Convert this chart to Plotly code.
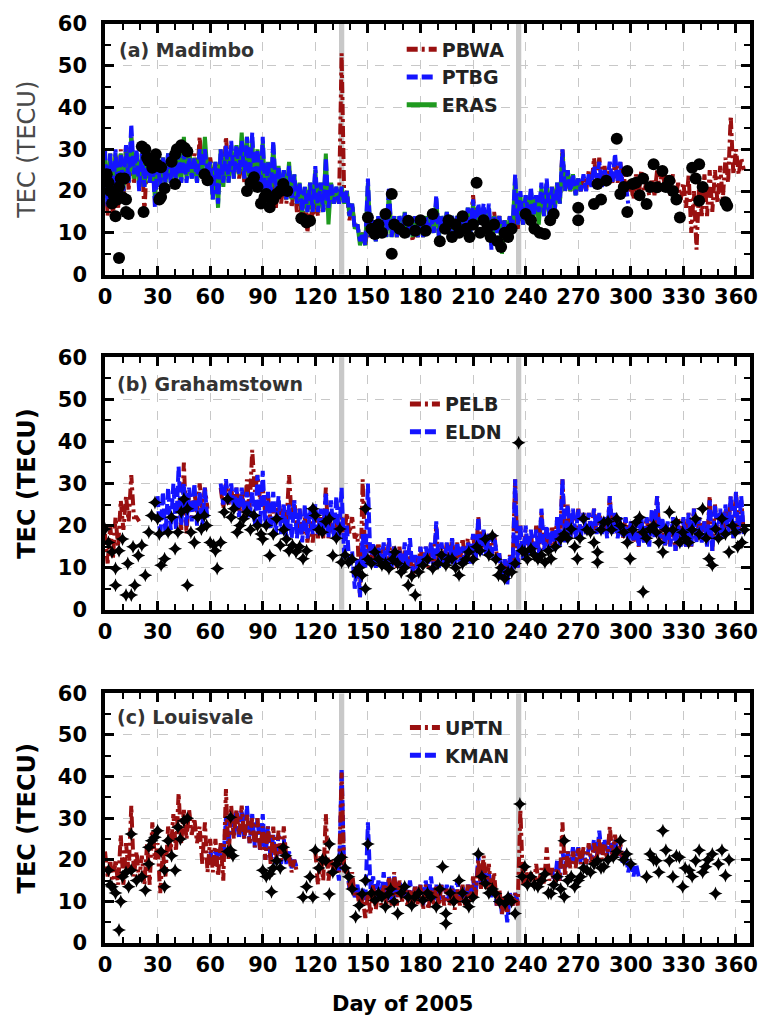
import plotly.graph_objects as go

# ---------------- data ----------------
DAYS3 = list(range(0, 366, 3))  # 3-day sampling grid (0..363)
N = None

# Panel (a) Madimbo: daily low / high of the GPS TEC streaks
PBWA_LO = [14,13,16,18,20,22,22,15,22,24, 22,22,23,24,24,25,24,23,24,25, 24,22,22,25,24,23,22,21,22,20,
           19,18,16,17,17,16,15,12,10,13, 14,15,16,17,17,18,13,11,8,7, 9,9,9,10,10,9,10,9,8,9,
           9,10,10,10,10,9,10,11,10,11, 11,12,11,10,10,10,9,10,11,12, 14,14,14,15,15,15,17,20,20,20,
           20,20,21,22,22,22,22,22,21,20, 18,19,20,19,19,20,20,19,18,18, 16,10,6,14,14,15,17,18,22,24, 24,25]
PBWA_HI = [28,29,29,30,31,33,29,28,28,29, 28,28,28,29,29,30,30,29,33,30, 28,27,28,33,30,30,29,28,27,26,
           27,26,26,24,24,25,22,20,19,18, 19,20,20,20,20,53,20,17,12,10, 12,12,13,13,13,14,13,13,13,12,
           13,13,14,14,14,14,13,14,15,15, 19,16,15,14,15,14,13,14,15,17, 17,18,17,18,20,21,22,30,24,23,
           23,23,25,28,28,26,25,27,27,24, 22,24,25,22,23,25,26,24,24,22, 22,24,20,22,24,25,25,26,28,38, 30,28]
PTBG_LO = [16,17,18,20,22,24,20,21,22,16, 21,22,22,23,22,22,23,22,24,24, 18,17,22,22,23,24,23,22,21,20,
           18,19,20,19,18,18,17,15,15,15, 15,15,16,17,17,17,14,11,8,7, 9,8,9,9,9,9,10,9,9,9,
           9,10,10,9,10,10,10,11,10,10, 11,12,10,6,10,9,9,11,12,12, 14,14,15,14,14,15,17,20,20,19,
           20,20,21,22,21,22,22,22,20,17] + [N] * 22
PTBG_HI = [30,29,30,29,31,36,30,29,30,29, 28,28,29,28,29,29,28,28,30,30, 27,27,30,31,32,31,32,33,34,30,
           33,27,32,26,25,26,24,22,21,22, 26,22,28,22,21,21,20,17,12,10, 23,13,14,14,21,14,14,15,13,14,
           14,14,14,19,14,15,14,14,15,16, 18,17,17,17,14,14,13,14,24,20, 19,21,19,22,23,21,22,30,25,24,
           23,24,24,26,27,25,27,29,27,22] + [N] * 22
ERAS_LO = [17,17,18,20,22,23,21,21,22,18, 21,22,22,22,22,23,23,22,24,24, 18,16,21,22,23,24,23,22,21,20,
           18,19,20,19,18,18,17,15,15,15, 15,15,12,17,17,17,14,11,7,7, 9,8,9,9,9,9,10,9,9,9,
           9,10,10,9,10,10,10,11,10,10, 11,12,10,7,10,5,9,11,12,12, 14,14,12,14,14,15,17,20,20,19,
           20] + [N] * 31
ERAS_HI = [29,29,29,29,30,33,29,29,29,28, 28,28,29,28,29,33,30,28,30,33, 27,27,30,30,31,31,34,33,32,30,
           32,27,31,26,25,27,24,22,21,22, 25,22,29,22,21,21,20,17,12,10, 22,13,14,14,20,14,14,15,13,14,
           14,14,14,18,14,15,14,14,15,16, 17,16,16,16,14,14,13,14,23,19, 19,20,19,21,22,21,22,29,25,24,
           23] + [N] * 31
MAD_DAY = [1,2,3,4,5,6,7,8,8,9,10,11,12,12,13.5,21,22,23,24,25,27,29,29.5,31,32,32,34,38,40,40,41,43.5,45.5,47,
           56.8,58.5,81,83,85,87,89,91,92,94,96,98,100,101.7,104,112,113,115,117,150,152,154,156,158,160,163.6,163.6,
           165,168,171,173,177,180,183,187,191,194,196,198,200,202,204,206,208,210,212,214,216,218,220,222,224,226,
           228,230,232,240,243,245,248,251,254,256,270,270,279,281,283,286,292,294,296,298,298,301,303,305,307,309,
           311,313,315,318,320,322,324,326,328,335,337,339,339,341,354,355]
MAD_TEC = [24,22,20,17,19,14,18,4,21,23,18.5,23,18,15,14.5,30.7,15,30,28,27.2,25.6,28.8,26.4,18,18.6,25.7,20.7,
           27,28.8,21.7,30,31,30.3,29.5,24,22.6,20,22,23.3,21,17,18.5,19.3,16.1,18,19.3,20,21.7,20,13.5,13.3,12.5,
           12.9,13.7,11,9.7,12,10,14.5,19.3,5,12,11,10,12.9,10.5,13,10.5,14.5,8,11,13,9,12,10,14,11,9,12,22,10,13,
           11,9,12,8,6.6,10,9,11,14.5,13,11,10,9.7,13,14.5,16,13,16.9,21.7,18,22.5,32.5,19.3,21,24.8,15,21.7,22,19,
           23,16.9,21,26.4,20.9,24.8,21,22.5,20,18,13.7,25.6,23,26.4,17.7,21,17.3,16.5]

# Panel (b) Grahamstown
PELB_LO = [11,12,15,19,21,22,21,N,N,N, N,N,N,N,19,18,22,23,24,24, N,N,24,25,24,23,22,24,28,26,
           23,21,21,22,20,22,19,18,16,16, 17,17,17,18,17,18,18,17,3,12, 11,11,11,10,11,10,9,10,8,9,
           10,10,10,10,11,11,11,11,12,12, 12,14,14,13,13,8,8,10,10,13, 13,13,14,14,14,15,16,17,17,18,
           18,18,18,18,19,18,19,18,17,18, 16,15,16,17,18,16,15,15,14,16, 15,15,16,17,16,14,18,17,18,17, 18,18]
PELB_HI = [18,20,22,26,27,32,22,N,N,N, N,N,N,N,26,35,28,28,30,29, N,N,29,30,29,29,28,31,38,32,
           29,27,25,26,24,32,26,24,22,21, 22,22,29,22,21,22,23,22,18,31, 16,15,16,15,16,15,15,14,14,13,
           15,15,16,20,15,16,17,16,17,17, 18,22,19,18,18,13,12,13,31,20, 19,18,20,23,19,20,22,31,25,23,
           24,23,23,24,23,22,27,22,21,22, 21,20,21,22,22,27,21,20,21,22, 22,23,24,22,21,27,25,23,24,27, 28,26]
ELDN_LO = [N]*10 + [17,18,19,19,20,20,21,20,20,21, N,N,25,25,24,22,23,22,20,20,
           20,19,18,18,17,17,17,16,17,18, 18,18,17,17,17,12,10,5,3,10, 11,10,11,10,10,10,9,10,9,9,
           10,11,10,10,11,11,10,11,11,11, 12,13,13,12,13,7,6,9,10,12, 13,13,13,14,14,14,15,16,17,17,
           17,18,18,18,18,17,18,17,17,16, 16,15,16,15,17,17,15,15,14,15, 15,15,16,16,15,14,17,17,18,17, 18,18]
ELDN_HI = [N]*10 + [27,28,29,30,34,30,29,30,28,29, N,N,30,31,30,29,29,28,28,32,
           33,28,28,27,25,25,26,24,25,24, 25,24,28,26,27,29,20,14,12,18, 30,16,15,16,17,15,14,16,17,13,
           15,15,16,21,16,16,17,16,15,16, 18,22,19,18,18,13,12,13,31,20, 20,19,19,24,20,19,22,31,25,24,
           24,23,23,24,23,22,27,23,22,22, 21,21,22,22,24,27,22,21,22,20, 22,23,24,22,21,26,25,24,25,27, 28,27]
GRA_DAY = [0,2,4,6,6,8,10,12,13,15,16,17,19,21,23,25,26.6,28.5,30,31,32,34,36,38,40,41.6,43.5,45,47,47,49,51,53,
           55,56.7,58,60,62,63,64,66,68,70,72,73.5,75.4,77,79,81,83,85,87,89,90,92,94,96,98,100,102,103.5,105,107,
           109,111,113,115,118.6,120,122,124,126,128,130,132,134,135,137,139,141,143,145,146.7,148.6,148.6,150,152,
           154,156,158,160,162,164,165.5,167,169,171,173,175,177,179,
           181.4,184,187,190,192,194.5,196,198,200,202,204,206,207.6,210,212,214,217,219,221,223,224.5,226,228,230,
           232,234,236,238,239.5,241,243,245,247,249,251,253,254.5,257,260,262,264,266,268,269.5,271,273,275,277,
           279,281,281,283,284.6,287,289,292,294,296,298,299.6,301,303,305,307,307,309,311,313,314.6,316,318.3,320,
           322,324,326,328,329.6,331,333,335,337,339,341,343,344.6,346.5,348.4,350,352,354,356,358,359.6,361,363.4,365]
GRA_TEC = [19.2,16,13.7,9.8,5.8,14,16.8,3.5,11,3.5,15,5.8,12.9,15.3,8.2,18.4,22.4,25.5,21.6,18,10.6,12.1,18.4,22,
           14.5,18.4,23.2,26.3,24,5.8,18.4,16,22,19.2,22.4,20,16,15.3,14,9.8,16,23.2,26.3,22,24,18.4,20,21.6,23.2,
           19,22.4,20,18,16.8,20,12.9,18,21.6,15.3,19,16.8,14,15.3,13.7,15,12.1,14,24,22.4,19,18.4,21,21.6,12.9,
           17,19.2,11.3,13,11.3,12,9,10,8.2,24,5,12,11,13.7,12,10.6,11,9.8,12,13.7,11,9,10,5.8,8,3.5,9,
           10.6,12,9.8,11,13,10.6,12,12.1,10,8.2,11,12,13.7,12,15,14,16.8,13,17.6,12,8.2,10,7.4,9,9,11,39.7,14,
           13.7,12,14.5,13,12,13,11.3,14,12.1,15,16.8,18,17,19.2,15,12.1,17,21.6,19,18.4,16,13.7,11.3,19,20.8,21,
           19,21.6,20,18.4,16,12.1,19,20.8,22,18.4,4.3,17,19.2,20,18.4,16,13.7,19,23.2,19,20.8,16,18.4,17,16,19,
           21.6,18,24,17,12.1,10.6,19.2,17,21.6,18,13.7,20,18.4,15,16,19]

# Panel (c) Louisvale
UPTN_LO = [16,13,14,14,17,16,15,14,14,20, 12,16,22,22,24,25,26,24,19,17, 17,16,15,20,25,26,25,24,23,22,
           20,19,19,20,20,17,17,N,N,N, 14,15,15,17,17,17,13,11,8,6, 7,8,9,9,9,9,10,9,9,9,
           8,8,9,9,9,9,8,9,9,10, 11,13,13,12,9,7,7,9,9,14, 14,13,14,14,15,14,15,16,18,18,
           19,19,19,20,20,20,21,21,20,N] + [N] * 22
UPTN_HI = [22,20,20,26,24,33,22,21,24,29, 24,22,28,31,36,32,32,30,28,29, 25,25,24,37,33,32,33,31,30,30,
           28,28,28,27,28,21,20,N,N,N, 22,21,31,20,20,41,18,17,12,11, 12,14,13,14,16,17,15,14,13,14,
           14,14,13,14,14,13,13,13,14,14, 16,20,21,19,17,13,11,12,12,32, 18,17,19,18,23,18,18,29,22,22,
           23,23,24,24,25,24,28,26,24,N] + [N] * 22
KMAN_LO = [N]*20 + [20,20,20,24,26,25,25,24,23,22, 20,20,19,19,19,18,18,N,N,N, N,N,N,N,15,17,13,11,10,10,
           13,10,11,10,10,11,11,10,10,10, 9,10,10,10,10,10,10,10,10,11, 12,14,14,11,9,7,5,9,10,N,
           N,N,N,N,N,14,15,18,19,19, 19,19,20,20,21,21,21,21,19,17, 16,16] + [N] * 20
KMAN_HI = [N]*20 + [22,22,23,30,31,32,32,33,31,30, 31,28,26,26,25,22,20,N,N,N, N,N,N,N,20,42,18,15,14,13,
           29,16,15,17,16,16,15,14,15,14, 14,15,16,14,14,14,14,15,14,14, 15,21,19,17,15,12,11,12,12,N,
           N,N,N,N,N,18,20,22,22,23, 23,22,23,25,27,25,26,25,23,22, 20,19] + [N] * 20
LOU_DAY = [2,3,4,6,8,9,10,12,13.5,15,15,18,21,23,25,25,26.6,28.5,30,32,34,34,36,38,40,41.6,43,45,47,70,71.7,71.7,
           73,90,92,94,95,96,98,100,101.7,103,113,115,117,118.6,120,122,124,126,128,128,130,132,133,135,137,139,
           141,143,145,146.7,148.6,150,152,154,156,158,160,161.7,163,165,167,169,171,173,175,176.7,179,
           181.4,184,186,189,191,192.6,194.5,194.5,197,199,202,204,206,207.6,210,213,215,217,219,221,222.7,225,
           228.3,230,232,234,236.7,238,239.5,241,243,245,247,249,251,253,254.5,256,258,260,262,262,264,266,268,
           270,271.4,273,275,277,279,281,283,284.6,287,290,292,294,296,297.7,300,309,311,313,314.6,316,318.3,320,
           322,324,326,327.7,329.6,331,333.3,335,337,339,341,342.7,344,346.5,348.3,350,352,354,356]
LOU_TEC = [17.5,14,13.5,12,3.1,10,15.9,17,13.5,17.5,26.2,15,15.9,12.7,19,23,24.6,25.4,27,22,13.5,17.5,24.6,21,17.5,
           27.8,25,29.4,30,22,30.2,22.3,21,17.5,16,16.6,12.3,18,19.8,18,23,21,11,13.5,15.9,11,22.3,18,20,19.8,23.8,
           11.8,17,19,20,20.6,18,15.9,13,6.3,9,11.8,15,23.8,12,10.3,12,11,8.7,11.8,13,10,7.1,12,13.5,11,9,11,12,
           10.3,12,11,8.7,13,18.3,7.1,4.7,12,10,15,12,10,8.7,11,21.4,16,14.3,12,13,11.9,10,9.5,11,10,7.1,33.4,16,
           18.3,14,15.9,14,13.5,15,16.6,12,11.9,14,15.9,13,24.6,11.1,15,16,13.5,15,15.9,18,17.5,17,19,19.8,18,18.3,
           20,20.6,22,24.6,20,21.4,19,15.9,21.4,20,19.8,17,27,22.3,19.8,15.9,21,20.6,13.5,18,17.5,16,19.8,22.3,17,
           18.3,20,21.4,11.9,19,22.3,16.2,20]

EVENT_DAYS = [135, 236]

# ---------------- styling ----------------
RED = "#9a1010"
BLUE = "#1414ff"
GREEN = "#1f9a1f"
FONT = "DejaVu Sans"


def zigzag(lo, hi):
    xs, ys = [], []
    for d, l, h in zip(DAYS3, lo, hi):
        if l is None or h is None:
            xs.append(d)
            ys.append(None)
            continue
        xs += [d, d + 1.5]
        ys += [h, l]
    return xs, ys


fig = go.Figure()


def add_line(lo, hi, name, color, dash, row, legend, rank):
    xs, ys = zigzag(lo, hi)
    fig.add_trace(go.Scatter(
        x=xs, y=ys, mode="lines", name=name,
        line=dict(color=color, width=4, dash=dash),
        connectgaps=False, xaxis="x" if row == 1 else f"x{row}",
        yaxis="y" if row == 1 else f"y{row}", legend=legend, legendrank=rank))


def add_marks(days, vals, symbol, size, row):
    fig.add_trace(go.Scatter(
        x=days, y=vals, mode="markers", showlegend=False,
        marker=dict(color="black", symbol=symbol, size=size, line=dict(width=0)),
        xaxis="x" if row == 1 else f"x{row}", yaxis="y" if row == 1 else f"y{row}"))


DASHDOT = "11px,4px,3px,4px"
DASH = "11px,4px"

# panel a
add_line(PBWA_LO, PBWA_HI, "PBWA", RED, DASHDOT, 1, "legend", 1)
add_line(ERAS_LO, ERAS_HI, "ERAS", GREEN, "solid", 1, "legend", 3)
add_line(PTBG_LO, PTBG_HI, "PTBG", BLUE, DASH, 1, "legend", 2)
add_marks(MAD_DAY, MAD_TEC, "circle", 12, 1)
# panel b
add_line(PELB_LO, PELB_HI, "PELB", RED, DASHDOT, 2, "legend2", 1)
add_line(ELDN_LO, ELDN_HI, "ELDN", BLUE, DASH, 2, "legend2", 2)
add_marks(GRA_DAY, GRA_TEC, "star-diamond", 10, 2)
# panel c
add_line(KMAN_LO, KMAN_HI, "KMAN", BLUE, DASH, 3, "legend3", 2)
add_line(UPTN_LO, UPTN_HI, "UPTN", RED, DASHDOT, 3, "legend3", 1)
add_marks(LOU_DAY, LOU_TEC, "star-diamond", 10, 3)

tickfont = dict(family=FONT, size=21, color="black", weight="bold")


def xaxis_style(anchor):
    return dict(
        anchor=anchor, range=[0, 368], tickmode="linear", tick0=0, dtick=30,
        showline=True, linewidth=3.5, linecolor="black", mirror="allticks",
        ticks="inside", ticklen=9, tickwidth=2.5, tickcolor="black",
        minor=dict(dtick=10, tick0=0, ticks="inside", ticklen=6, tickwidth=2, tickcolor="black", showgrid=False),
        showgrid=True, gridcolor="#c8c8c8", griddash="dash", gridwidth=1, zeroline=False,
        tickfont=tickfont, ticklabelstandoff=0)


def yaxis_style(anchor, domain, title_font):
    return dict(
        anchor=anchor, domain=domain, range=[0, 60], tickmode="linear", tick0=0, dtick=10,
        showline=True, linewidth=3.5, linecolor="black", mirror="allticks",
        ticks="inside", ticklen=9, tickwidth=2.5, tickcolor="black",
        minor=dict(dtick=5, tick0=0, ticks="inside", ticklen=6, tickwidth=2, tickcolor="black", showgrid=False),
        showgrid=True, gridcolor="#c8c8c8", griddash="dash", gridwidth=1, zeroline=False,
        tickfont=tickfont, ticklabelstandoff=10,
        title=dict(text="TEC (TECU)", font=title_font, standoff=16))


light_title = dict(family=FONT, size=24, color="#4a4a4a")
bold_title = dict(family=FONT, size=24, color="black", weight="bold")

legend_common = dict(font=dict(family=FONT, size=19, color="#222222", weight="bold"),
                     bgcolor="rgba(0,0,0,0)", xanchor="left", yanchor="top",
                     itemsizing="constant", tracegroupgap=0)

shapes = []
for xr, yr in (("x", "y"), ("x2", "y2"), ("x3", "y3")):
    for d in EVENT_DAYS:
        shapes.append(dict(type="rect", xref=xr, yref=f"{yr} domain", x0=d - 1.5, x1=d + 1.5, y0=0, y1=1,
                           fillcolor="#c8c8c8", line=dict(width=0), layer="below"))

label_font = dict(family=FONT, size=19, color="#333333", weight="bold")
annotations = [
    dict(text="(a) Madimbo", xref="x domain", yref="y domain", x=0.018, y=0.895, xanchor="left",
         yanchor="middle", showarrow=False, font=label_font),
    dict(text="(b) Grahamstown", xref="x2 domain", yref="y2 domain", x=0.016, y=0.895, xanchor="left",
         yanchor="middle", showarrow=False, font=label_font),
    dict(text="(c) Louisvale", xref="x3 domain", yref="y3 domain", x=0.016, y=0.905, xanchor="left",
         yanchor="middle", showarrow=False, font=label_font),
    dict(text="Day of 2005", xref="paper", yref="paper", x=0.461, y=-0.066, xanchor="center",
         yanchor="middle", showarrow=False, font=dict(family=FONT, size=21, color="black", weight="bold")),
]

fig.update_layout(
    width=770, height=1019, margin=dict(l=105, r=12, t=19, b=76),
    paper_bgcolor="white", plot_bgcolor="white",
    xaxis=xaxis_style("y"), xaxis2=xaxis_style("y2"), xaxis3=xaxis_style("y3"),
    yaxis=yaxis_style("x", [0.7273, 1.0], light_title),
    yaxis2=yaxis_style("x2", [0.3626, 0.6374], bold_title),
    yaxis3=yaxis_style("x3", [0.0, 0.2716], bold_title),
    legend=dict(x=0.46, y=0.993, **legend_common),
    legend2=dict(x=0.465, y=0.607, **legend_common),
    legend3=dict(x=0.465, y=0.255, **legend_common),
    shapes=shapes, annotations=annotations, showlegend=True,
)

fig.write_html("out.html", config={"displayModeBar": False},
               post_script="document.body.style.margin='0px';")
